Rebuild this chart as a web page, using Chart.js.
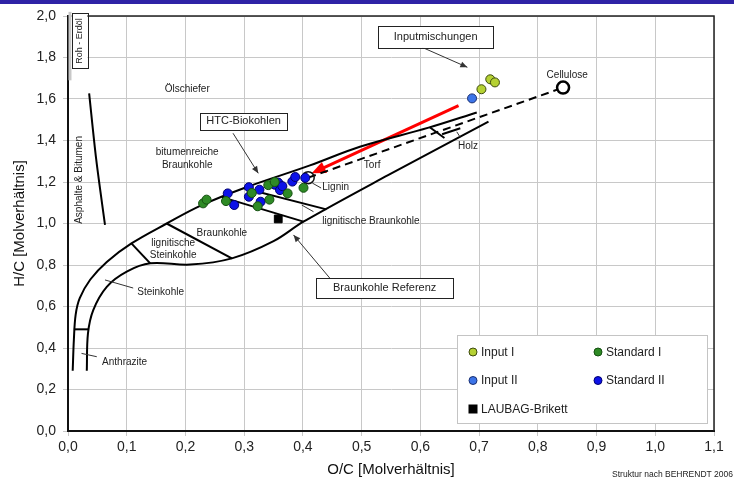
<!DOCTYPE html>
<html><head><meta charset="utf-8">
<script src="https://cdn.jsdelivr.net/npm/chart.js@4.4.1/dist/chart.umd.min.js"></script>
<style>html,body{margin:0;padding:0;background:#fff;}#wrap{width:734px;height:488px;}</style>
</head><body><div id="wrap"><canvas id="c" width="734" height="488"></canvas></div>
<script>
// ---- tick labels ----
const xTickLabels = ['0,0','0,1','0,2','0,3','0,4','0,5','0,6','0,7','0,8','0,9','1,0','1,1'];
const yTickLabels = ['0,0','0,2','0,4','0,6','0,8','1,0','1,2','1,4','1,6','1,8','2,0'];

// ---- measured series (O/C, H/C) ----
const inputI = [{x:0.719,y:1.695},{x:0.727,y:1.680},{x:0.704,y:1.647}];
const inputII = [{x:0.688,y:1.603}];
const standardI = [{x:0.230,y:1.097},{x:0.236,y:1.115},{x:0.269,y:1.108},{x:0.313,y:1.147},{x:0.323,y:1.083},
  {x:0.341,y:1.185},{x:0.343,y:1.115},{x:0.352,y:1.200},{x:0.374,y:1.145},{x:0.401,y:1.172}];
const standardII = [{x:0.272,y:1.145},{x:0.283,y:1.089},{x:0.308,y:1.175},{x:0.308,y:1.129},{x:0.326,y:1.163},
  {x:0.328,y:1.105},{x:0.352,y:1.187},{x:0.358,y:1.197},{x:0.361,y:1.161},{x:0.365,y:1.180},
  {x:0.382,y:1.202},{x:0.387,y:1.224},{x:0.404,y:1.220}];
const laubag = [{x:0.358,y:1.022}];
const cellulose = [{x:0.843,y:1.655}];
const lignin = [{x:0.409,y:1.221}];

// ---- coal band structure (after Behrendt) ----
const upperBoundary = [{x:0.008,y:0.29},{x:0.010,y:0.44},{x:0.013,y:0.56},{x:0.020,y:0.64},{x:0.038,y:0.73},
  {x:0.066,y:0.815},{x:0.108,y:0.904},{x:0.168,y:1.0},{x:0.225,y:1.085},{x:0.299,y:1.17},{x:0.412,y:1.28},
  {x:0.497,y:1.37},{x:0.614,y:1.462},{x:0.696,y:1.535}];
const lowerBoundary = [{x:0.032,y:0.29},{x:0.034,y:0.47},{x:0.043,y:0.583},{x:0.066,y:0.695},{x:0.100,y:0.768},
  {x:0.140,y:0.808},{x:0.208,y:0.802},{x:0.279,y:0.832},{x:0.350,y:0.915},{x:0.401,y:1.009},{x:0.545,y:1.233},
  {x:0.716,y:1.491}];
const anthraziteDiv = [{x:0.010,y:0.49},{x:0.035,y:0.49}];
const steinkohleDiv = [{x:0.108,y:0.904},{x:0.140,y:0.808}];
const lignSteinDiv = [{x:0.168,y:1.0},{x:0.279,y:0.832}];
const braunkohleDiv = [{x:0.262,y:1.127},{x:0.401,y:1.009}];
const lignBraunDiv = [{x:0.300,y:1.170},{x:0.440,y:1.068}];
const torfHolzDiv = [{x:0.616,y:1.464},{x:0.641,y:1.412}];
const holzInner = [{x:0.637,y:1.430},{x:0.668,y:1.459}];
const asphaltLine = [{x:0.036,y:1.627},{x:0.048,y:1.31},{x:0.063,y:0.993}];
const ligninCellulose = [{x:0.409,y:1.221},{x:0.843,y:1.655}];
const redArrow = [{x:0.665,y:1.568},{x:0.415,y:1.242}];

// ---- annotations (data coordinates) ----
const FONT = "'Liberation Sans', Arial, sans-serif";
const labels = [
  {t:'Ölschiefer', x:0.203, y:1.648, s:10, a:'center'},
  {t:'bitumenreiche', x:0.203, y:1.345, s:10, a:'center'},
  {t:'Braunkohle', x:0.203, y:1.282, s:10, a:'center'},
  {t:'Cellulose', x:0.850, y:1.716, s:10, a:'center'},
  {t:'Torf', x:0.518, y:1.282, s:10, a:'center'},
  {t:'Holz', x:0.681, y:1.373, s:10, a:'center'},
  {t:'Lignin', x:0.433, y:1.176, s:10, a:'left'},
  {t:'lignitische Braunkohle', x:0.433, y:1.012, s:10, a:'left'},
  {t:'Braunkohle', x:0.262, y:0.954, s:10, a:'center'},
  {t:'lignitische', x:0.179, y:0.906, s:10, a:'center'},
  {t:'Steinkohle', x:0.179, y:0.848, s:10, a:'center'},
  {t:'Steinkohle', x:0.118, y:0.670, s:10, a:'left'},
  {t:'Anthrazite', x:0.058, y:0.333, s:10, a:'left'},
  {t:'Asphalte & Bitumen', x:0.020, y:1.210, s:10, a:'center', r:true}
];
const boxes = [
  {t:'HTC-Biokohlen', x1:0.225, y1:1.533, x2:0.373, y2:1.451},
  {t:'Inputmischungen', x1:0.528, y1:1.952, x2:0.724, y2:1.846},
  {t:'Braunkohle Referenz', x1:0.4225, y1:0.737, x2:0.656, y2:0.641},
  {t:'Roh - Erdöl', x1:0.006, y1:2.013, x2:0.033, y2:1.747, r:true, s:9}
];
const pointers = [
  {p:[0.281,1.435,0.324,1.242], head:true},
  {p:[0.603,1.849,0.680,1.753], head:true},
  {p:[0.446,0.736,0.384,0.945], head:true},
  {p:[0.416,1.195,0.431,1.171]},
  {p:[0.398,1.089,0.418,1.057]},
  {p:[0.063,0.728,0.111,0.689]},
  {p:[0.023,0.374,0.049,0.358]},
  {p:[0.662,1.442,0.668,1.415]}
];

function arrowHead(ctx, x1, y1, x2, y2, len, wid, color){
  const a = Math.atan2(y2-y1, x2-x1);
  ctx.save(); ctx.fillStyle = color; ctx.beginPath();
  ctx.moveTo(x2, y2);
  ctx.lineTo(x2 - len*Math.cos(a) + wid*Math.sin(a), y2 - len*Math.sin(a) - wid*Math.cos(a));
  ctx.lineTo(x2 - len*Math.cos(a) - wid*Math.sin(a), y2 - len*Math.sin(a) + wid*Math.cos(a));
  ctx.closePath(); ctx.fill(); ctx.restore();
}

const legendItems = [
  {t:'Input I', ds:0, col:0, row:0},
  {t:'Standard I', ds:2, col:1, row:0},
  {t:'Input II', ds:1, col:0, row:1},
  {t:'Standard II', ds:3, col:1, row:1},
  {t:'LAUBAG-Brikett', ds:4, col:0, row:2}
];

const annotPlugin = {
  id: 'annot',
  beforeDraw(chart){
    const c = chart.ctx; c.save();
    c.fillStyle = '#fff'; c.fillRect(0,0,chart.width,chart.height);
    c.fillStyle = '#2e22a6'; c.fillRect(0,0,chart.width,4);
    c.restore();
  },
  beforeDatasetsDraw(chart){
    const c = chart.ctx, a = chart.chartArea; c.save();
    c.strokeStyle = '#222'; c.lineWidth = 1.5;
    c.beginPath(); c.moveTo(a.left, a.top); c.lineTo(a.right, a.top); c.lineTo(a.right, a.bottom); c.stroke();
    // light grey marker on the axis next to "Roh - Erdöl"
    const X = chart.scales.x, Y = chart.scales.y;
    c.strokeStyle = '#c8c8c8'; c.lineWidth = 3;
    c.beginPath(); c.moveTo(a.left + 2, Y.getPixelForValue(2.02)); c.lineTo(a.left + 2, Y.getPixelForValue(1.69)); c.stroke();
    // red arrow
    const rx1 = X.getPixelForValue(redArrow[0].x), ry1 = Y.getPixelForValue(redArrow[0].y);
    const rx2 = X.getPixelForValue(redArrow[1].x), ry2 = Y.getPixelForValue(redArrow[1].y);
    const ang = Math.atan2(ry2-ry1, rx2-rx1);
    c.strokeStyle = '#ff0000'; c.lineWidth = 3;
    c.beginPath(); c.moveTo(rx1, ry1); c.lineTo(rx2 - 10*Math.cos(ang), ry2 - 10*Math.sin(ang)); c.stroke();
    arrowHead(c, rx1, ry1, rx2, ry2, 14, 6, '#ff0000');
    c.restore();
  },
  afterDatasetsDraw(chart){
    const c = chart.ctx, X = chart.scales.x, Y = chart.scales.y;
    const px = v => X.getPixelForValue(v), py = v => Y.getPixelForValue(v);
    c.save();
    c.fillStyle = '#222'; c.textBaseline = 'middle';
    labels.forEach(l => {
      c.font = l.s + 'px ' + FONT;
      c.save(); c.translate(px(l.x), py(l.y));
      if (l.r) c.rotate(-Math.PI/2);
      c.textAlign = l.a; c.fillText(l.t, 0, 0); c.restore();
    });
    pointers.forEach(p => {
      const [x1,y1,x2,y2] = p.p;
      c.strokeStyle = '#333'; c.lineWidth = 1;
      c.beginPath(); c.moveTo(px(x1), py(y1)); c.lineTo(px(x2), py(y2)); c.stroke();
      if (p.head) arrowHead(c, px(x1), py(y1), px(x2), py(y2), 7, 3, '#333');
    });
    boxes.forEach(b => {
      const x1 = px(b.x1), y1 = py(b.y1), x2 = px(b.x2), y2 = py(b.y2);
      c.fillStyle = '#fff'; c.fillRect(x1, y1, x2-x1, y2-y1);
      c.strokeStyle = '#222'; c.lineWidth = 1; c.strokeRect(Math.round(x1)+0.5, Math.round(y1)+0.5, Math.round(x2-x1), Math.round(y2-y1));
      c.fillStyle = '#222'; c.font = (b.s || 11) + 'px ' + FONT; c.textAlign = 'center';
      c.save(); c.translate((x1+x2)/2, (y1+y2)/2);
      if (b.r) c.rotate(-Math.PI/2);
      c.fillText(b.t, 0, 0); c.restore();
    });
    c.restore();
  },
  afterDraw(chart){
    const c = chart.ctx, a = chart.chartArea; c.save();
    // legend
    const L = a.left + 389, T = a.top + 319, W = 250, H = 88;
    c.fillStyle = '#fff'; c.fillRect(L, T, W, H);
    c.strokeStyle = '#c4c4c4'; c.lineWidth = 1; c.strokeRect(L+0.5, T+0.5, W, H);
    c.font = '12px ' + FONT; c.textBaseline = 'middle'; c.textAlign = 'left';
    legendItems.forEach(it => {
      const ds = chart.data.datasets[it.ds];
      const mx = L + 16 + it.col*125, my = T + 17 + it.row*28.5;
      c.fillStyle = ds.backgroundColor; c.strokeStyle = ds.borderColor; c.lineWidth = 1;
      if (ds.pointStyle === 'rect') { c.fillRect(mx-4.5, my-4.5, 9, 9); }
      else { c.beginPath(); c.arc(mx, my, 4, 0, Math.PI*2); c.fill(); c.stroke(); }
      c.fillStyle = '#222'; c.fillText(it.t, mx + 8, my + 0.5);
    });
    // footnote
    c.font = '8.5px ' + FONT; c.textAlign = 'right'; c.fillStyle = '#222';
    c.fillText('Struktur nach BEHRENDT 2006', 733, 475);
    c.restore();
  }
};

const structLine = (data, extra) => Object.assign({type:'scatter', data, showLine:true, pointRadius:0,
  borderColor:'#000', borderWidth:2, backgroundColor:'#000', tension:0, fill:false}, extra||{});

const datasets = [
  {label:'Input I', data:inputI, backgroundColor:'#b5d133', borderColor:'#3d4a10', pointRadius:4.5, borderWidth:1},
  {label:'Input II', data:inputII, backgroundColor:'#3c74e8', borderColor:'#1a2f70', pointRadius:4.5, borderWidth:1},
  {label:'Standard I', data:standardI, backgroundColor:'#2e8a25', borderColor:'#145010', pointRadius:4.5, borderWidth:1},
  {label:'Standard II', data:standardII, backgroundColor:'#0d12e8', borderColor:'#000070', pointRadius:4.5, borderWidth:1},
  {label:'LAUBAG-Brikett', data:laubag, backgroundColor:'#000', borderColor:'#000', pointStyle:'rect', pointRadius:5.5, borderWidth:1},
  {label:'Lignin', data:lignin, backgroundColor:'rgba(0,0,0,0)', borderColor:'#111', pointRadius:6, borderWidth:1.5},
  {label:'Cellulose', data:cellulose, backgroundColor:'#fff', borderColor:'#000', pointRadius:6, borderWidth:2.5},
  structLine(ligninCellulose, {borderDash:[8,5]}),
  structLine(upperBoundary, {tension:0.35}),
  structLine(lowerBoundary, {tension:0.35}),
  structLine(anthraziteDiv), structLine(steinkohleDiv), structLine(lignSteinDiv),
  structLine(braunkohleDiv), structLine(lignBraunDiv), structLine(torfHolzDiv), structLine(holzInner),
  structLine(asphaltLine, {tension:0.3})
];
datasets.forEach((d,i) => d.order = i);

new Chart(document.getElementById('c'), {
  type: 'scatter',
  data: { datasets },
  plugins: [annotPlugin],
  options: {
    responsive: false, animation: false, devicePixelRatio: 1,
    layout: { padding: { top: 16, right: 20, left: 0, bottom: 0 } },
    plugins: { legend: { display: false }, tooltip: { enabled: false } },
    scales: {
      x: {
        type: 'linear', min: 0, max: 1.1,
        afterFit: s => { s.height = 57; },
        ticks: { stepSize: 0.1, autoSkip: false, maxRotation: 0, padding: 3, color: '#222',
          font: { size: 14, family: FONT }, callback: v => xTickLabels[Math.round(v*10)] },
        grid: { color: '#c8c8c8', lineWidth: 1, tickLength: 5 },
        border: { color: '#111', width: 2 },
        title: { display: true, text: 'O/C [Molverhältnis]', color: '#111', font: { size: 15, family: FONT }, padding: { top: 0, bottom: 9 } }
      },
      y: {
        type: 'linear', min: 0, max: 2,
        afterFit: s => { s.width = 68; },
        ticks: { stepSize: 0.2, autoSkip: false, padding: 7, color: '#222',
          font: { size: 14, family: FONT }, callback: v => yTickLabels[Math.round(v*5)] },
        grid: { color: '#c8c8c8', lineWidth: 1, tickLength: 5 },
        border: { color: '#111', width: 2 },
        title: { display: true, text: 'H/C [Molverhältnis]', color: '#111', font: { size: 15, family: FONT }, padding: { top: 11, bottom: 0 } }
      }
    }
  }
});
</script>
</body></html>
